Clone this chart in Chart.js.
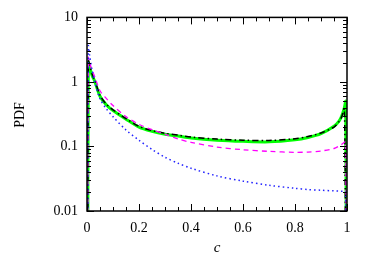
<!DOCTYPE html>
<html>
<head>
<meta charset="utf-8">
<script src="https://cdn.jsdelivr.net/npm/chart.js@4"></script>
<style>
  html, body { margin: 0; padding: 0; background: #fff; }
  #wrap { width: 374px; height: 262px; }
</style>
</head>
<body>
<div id="wrap"><canvas id="pdfChart" width="374" height="262"></canvas></div>
<script>
// sample positions along c (first/last points drop below the axis)
const cValues = [0.003, 0.005, 0.01, 0.02, 0.03, 0.05, 0.075, 0.1, 0.15, 0.2, 0.25, 0.3, 0.35, 0.4, 0.5, 0.6, 0.7, 0.8, 0.85, 0.9, 0.95, 0.97, 0.98, 0.99, 0.995, 0.997];

const histPdf    = [0.001, 2.0, 1.7, 1.25, 1.02, 0.6, 0.44, 0.36, 0.265, 0.2, 0.172, 0.155, 0.145, 0.135, 0.125, 0.12, 0.118, 0.127, 0.138, 0.158, 0.205, 0.25, 0.3, 0.4, 0.5, 0.001];
const fitPdf     = [0.001, 2.2, 1.8, 1.3, 1.05, 0.62, 0.45, 0.37, 0.27, 0.205, 0.176, 0.16, 0.15, 0.14, 0.13, 0.125, 0.124, 0.132, 0.143, 0.162, 0.2, 0.245, 0.29, 0.38, 0.001, 0.001];
const modelAPdf  = [0.001, 2.4, 2.0, 1.5, 1.2, 0.73, 0.55, 0.43, 0.29, 0.22, 0.182, 0.155, 0.131, 0.116, 0.098, 0.089, 0.084, 0.081, 0.082, 0.085, 0.093, 0.102, 0.108, 0.116, 0.12, 0.001];
const modelBPdf  = [0.001, 3.6, 2.6, 1.5, 1.0, 0.55, 0.38, 0.29, 0.18, 0.125, 0.09, 0.068, 0.055, 0.046, 0.035, 0.029, 0.025, 0.0225, 0.0215, 0.021, 0.0205, 0.0203, 0.0202, 0.0202, 0.02, 0.001];

const xTicks = [0, 0.2, 0.4, 0.6, 0.8, 1];
const yTicks = [0.01, 0.1, 1, 10];

const toPoints = ys => cValues.map((c, i) => ({ x: c, y: ys[i] }));

// frame with inward major/minor ticks on all four sides
const framePlugin = {
    id: 'frame',
    afterDraw(chart) {
        const ctx = chart.ctx;
        const a = chart.chartArea;
        const xs = chart.scales.x, ys = chart.scales.y;
        ctx.save();
        ctx.strokeStyle = '#000';
        ctx.lineWidth = 1.5;
        ctx.strokeRect(a.left, a.top, a.right - a.left, a.bottom - a.top);
        ctx.lineWidth = 1;
        ctx.beginPath();
        for (let k = 0; k <= 20; k++) {
            const v = k * 0.05;
            const px = Math.round(xs.getPixelForValue(v)) + 0.5;
            const len = (k % 4 === 0) ? 7 : 4;
            ctx.moveTo(px, a.bottom); ctx.lineTo(px, a.bottom - len);
            ctx.moveTo(px, a.top); ctx.lineTo(px, a.top + len);
        }
        for (let d = 0.01; d < 10; d *= 10) {
            for (let m = 1; m <= 10; m++) {
                const v = d * m;
                const py = Math.round(ys.getPixelForValue(v)) + 0.5;
                const len = (m === 1 || m === 10) ? 7 : 4;
                ctx.moveTo(a.left, py); ctx.lineTo(a.left + len, py);
                ctx.moveTo(a.right, py); ctx.lineTo(a.right - len, py);
            }
        }
        ctx.stroke();

        // axis titles
        ctx.fillStyle = '#000';
        ctx.textAlign = 'center';
        ctx.textBaseline = 'middle';
        ctx.font = 'italic 15px "Liberation Serif"';
        ctx.fillText('c', 217, 248);
        ctx.translate(20, 115);
        ctx.rotate(-Math.PI / 2);
        ctx.font = '14px "Liberation Serif"';
        ctx.fillText('PDF', 0, 0);
        ctx.restore();
    }
};

const tickFont = { family: 'Liberation Serif', size: 14 };

new Chart(document.getElementById('pdfChart'), {
    type: 'scatter',
    data: {
        datasets: [{
            label: 'histogram',
            data: toPoints(histPdf),
            borderColor: '#00ff00',
            borderWidth: 3,
            order: 4
        }, {
            label: 'fit',
            data: toPoints(fitPdf),
            borderColor: '#000000',
            borderWidth: 1.5,
            borderDash: [6, 3, 1.5, 3],
            order: 3
        }, {
            label: 'model A',
            data: toPoints(modelAPdf),
            borderColor: '#ff00ff',
            borderWidth: 1.3,
            borderDash: [5, 4],
            order: 2
        }, {
            label: 'model B',
            data: toPoints(modelBPdf),
            borderColor: '#2222ff',
            borderWidth: 1.5,
            borderDash: [1.5, 3],
            order: 1
        }].map(ds => Object.assign(ds, { showLine: true, pointRadius: 0, tension: 0.3, fill: false }))
    },
    options: {
        responsive: false,
        animation: false,
        events: [],
        layout: { padding: { left: 0, top: 17, right: 27, bottom: 0 } },
        plugins: { legend: { display: false }, tooltip: { enabled: false } },
        scales: {
            x: {
                type: 'linear',
                min: 0,
                max: 1,
                grid: { display: false, drawTicks: false },
                border: { display: false },
                afterBuildTicks: scale => { scale.ticks = xTicks.map(v => ({ value: v })); },
                afterFit: scale => { scale.height = 51; },
                ticks: {
                    color: '#000',
                    font: tickFont,
                    padding: 9,
                    maxRotation: 0,
                    callback: v => String(Number(v.toFixed(1)))
                }
            },
            y: {
                type: 'logarithmic',
                min: 0.01,
                max: 10,
                grid: { display: false, drawTicks: false },
                border: { display: false },
                afterBuildTicks: scale => { scale.ticks = yTicks.map(v => ({ value: v })); },
                afterFit: scale => { scale.width = 87; },
                ticks: {
                    color: '#000',
                    font: tickFont,
                    padding: 9,
                    callback: v => String(v)
                }
            }
        }
    },
    plugins: [framePlugin]
});
</script>
</body>
</html>
